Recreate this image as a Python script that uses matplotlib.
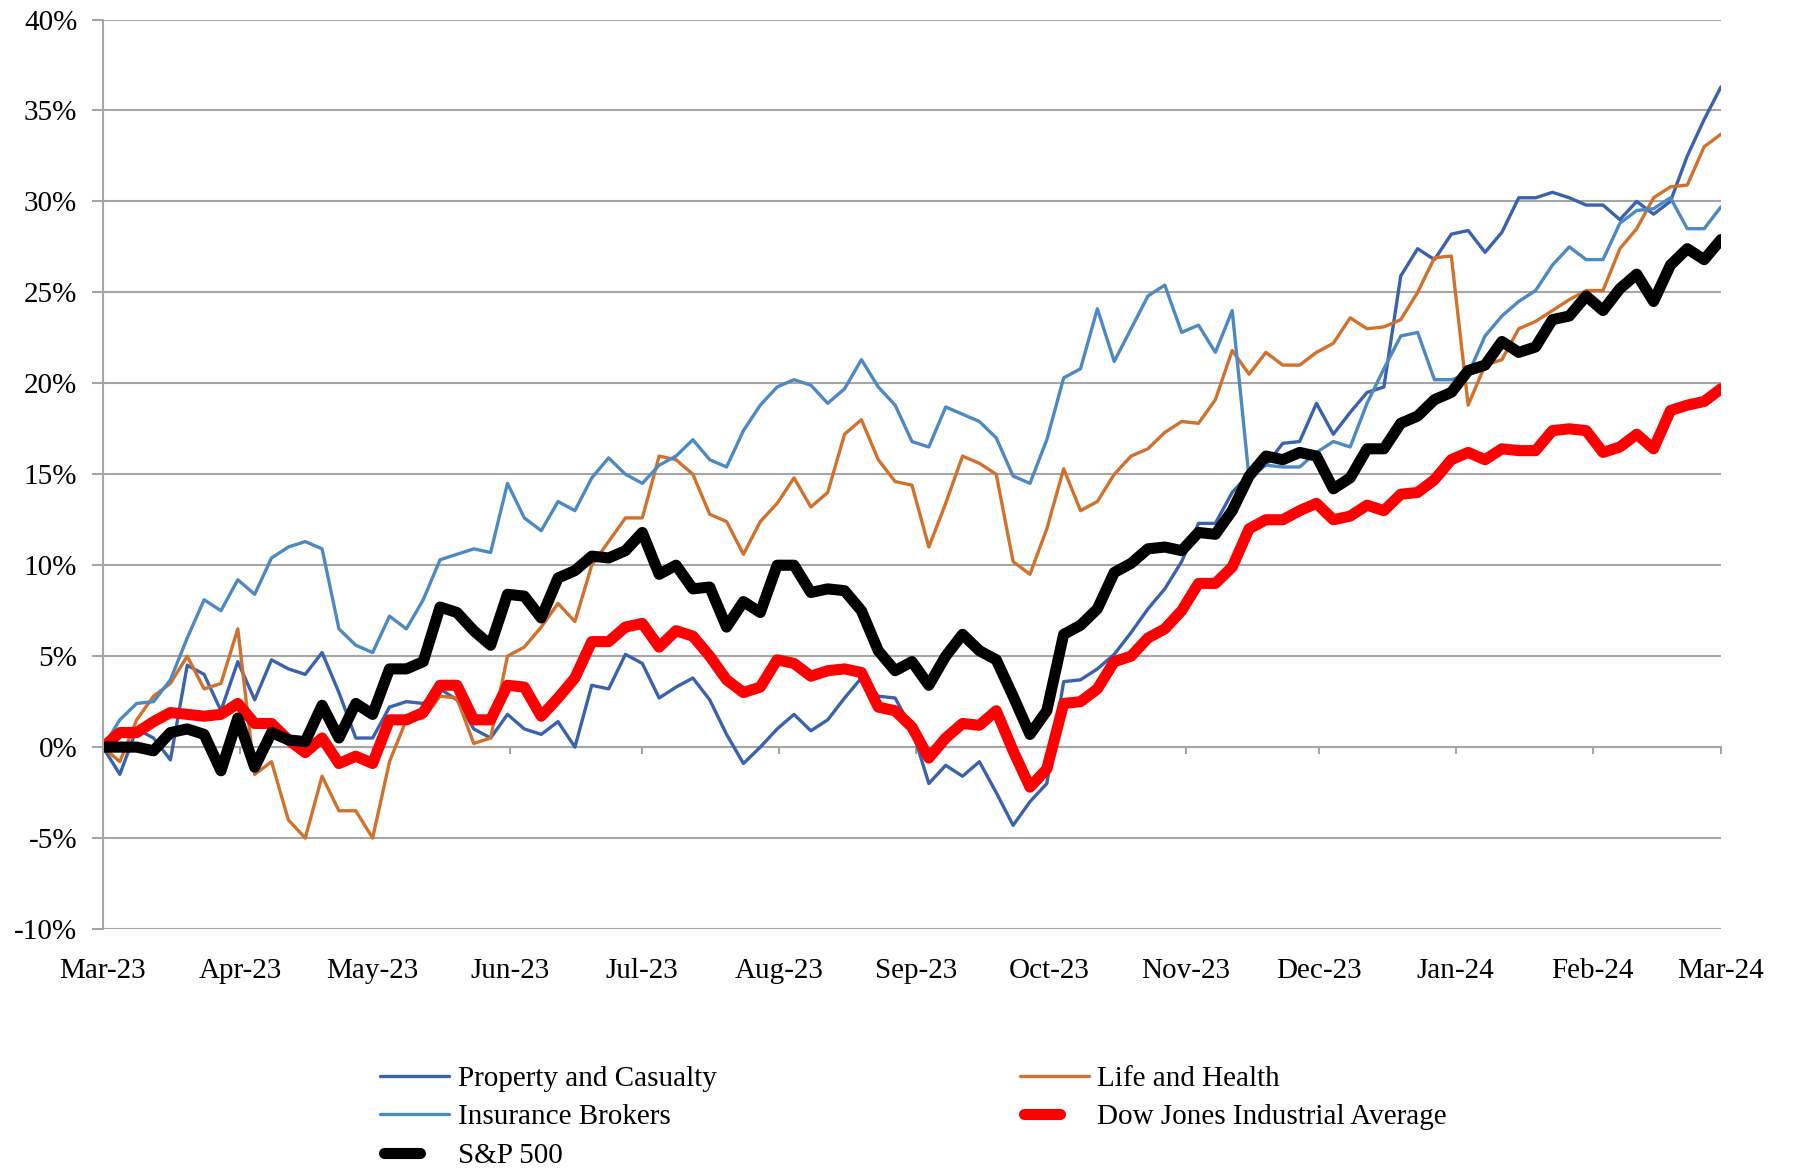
import numpy as np
import pandas as pd
import matplotlib
matplotlib.use("Agg")
import matplotlib.pyplot as plt
import matplotlib.dates as mdates
from matplotlib.ticker import FuncFormatter, MultipleLocator
from matplotlib.legend_handler import HandlerLine2D

# sampled about every 4 days, Mar-23 .. Mar-24, cumulative return in %
dates = pd.date_range("2023-03-01", "2024-03-01", periods=97)

prop_casualty = [
    0, -1.5, 1.0, 0.5, -0.7, 4.5, 4.0, 2.0, 4.7, 2.6, 4.8, 4.3, 4.0, 5.2, 3.0, 0.5, 0.5, 2.2,
    2.5, 2.4, 3.2, 2.6, 1.0, 0.5, 1.8, 1.0, 0.7, 1.4, 0.0, 3.4, 3.2, 5.1, 4.6, 2.7, 3.3,
    3.8, 2.6, 0.7, -0.9, 0.0, 1.0, 1.8, 0.9, 1.5, 2.7, 3.8, 2.8, 2.7, 1.0, -2.0, -1.0, -1.6,
    -0.8, -2.5, -4.3, -3.0, -2.0, 3.6, 3.7, 4.3, 5.1, 6.3, 7.6, 8.7, 10.2, 12.3, 12.3, 14.0, 15.0,
    15.5, 16.7, 16.8, 18.9, 17.2, 18.4, 19.5, 19.8, 25.9, 27.4, 26.8, 28.2, 28.4, 27.2, 28.3, 30.2,
    30.2, 30.5, 30.2, 29.8, 29.8, 29.0, 30.0, 29.3, 30.0, 32.5, 34.5, 36.3,
]

life_health = [
    0, -0.8, 1.5, 2.8, 3.5, 5.0, 3.2, 3.5, 6.5, -1.5, -0.8, -4.0, -5.0, -1.6, -3.5, -3.5, -5.0, -0.8,
    1.5, 1.6, 2.8, 2.7, 0.2, 0.5, 5.0, 5.5, 6.6, 7.9, 6.9, 10.0, 11.3, 12.6, 12.6, 16.0, 15.8,
    15.0, 12.8, 12.4, 10.6, 12.4, 13.4, 14.8, 13.2, 14.0, 17.2, 18.0, 15.8, 14.6, 14.4, 11.0, 13.4, 16.0,
    15.6, 15.0, 10.2, 9.5, 12.0, 15.3, 13.0, 13.5, 15.0, 16.0, 16.4, 17.3, 17.9, 17.8, 19.1, 21.8, 20.5,
    21.7, 21.0, 21.0, 21.7, 22.2, 23.6, 23.0, 23.1, 23.5, 25.0, 26.9, 27.0, 18.8, 21.0, 21.3, 23.0,
    23.4, 24.0, 24.6, 25.1, 25.1, 27.4, 28.5, 30.2, 30.8, 30.9, 33.0, 33.7,
]

brokers = [
    0, 1.5, 2.4, 2.5, 3.7, 6.0, 8.1, 7.5, 9.2, 8.4, 10.4, 11.0, 11.3, 10.9, 6.5, 5.6, 5.2, 7.2,
    6.5, 8.1, 10.3, 10.6, 10.9, 10.7, 14.5, 12.6, 11.9, 13.5, 13.0, 14.8, 15.9, 15.0, 14.5, 15.5, 16.0,
    16.9, 15.8, 15.4, 17.4, 18.8, 19.8, 20.2, 19.9, 18.9, 19.7, 21.3, 19.8, 18.8, 16.8, 16.5, 18.7, 18.3,
    17.9, 17.0, 14.9, 14.5, 16.9, 20.3, 20.8, 24.1, 21.2, 23.0, 24.8, 25.4, 22.8, 23.2, 21.7, 24.0, 14.8,
    15.5, 15.4, 15.4, 16.2, 16.8, 16.5, 18.9, 20.8, 22.6, 22.8, 20.2, 20.2, 20.5, 22.6, 23.7, 24.5,
    25.1, 26.5, 27.5, 26.8, 26.8, 28.8, 29.5, 29.6, 30.2, 28.5, 28.5, 29.7,
]

dow_jones = [
    0, 0.8, 0.8, 1.4, 1.9, 1.8, 1.7, 1.8, 2.4, 1.3, 1.3, 0.4, -0.3, 0.5, -0.9, -0.5, -0.9, 1.5,
    1.5, 1.9, 3.4, 3.4, 1.5, 1.5, 3.4, 3.3, 1.7, 2.7, 3.8, 5.8, 5.8, 6.6, 6.8, 5.5, 6.4,
    6.1, 5.0, 3.7, 3.0, 3.3, 4.8, 4.6, 3.9, 4.2, 4.3, 4.1, 2.2, 2.0, 1.1, -0.6, 0.5, 1.3,
    1.2, 2.0, -0.2, -2.2, -1.2, 2.4, 2.5, 3.2, 4.7, 5.0, 6.0, 6.5, 7.5, 9.0, 9.0, 9.9, 12.0,
    12.5, 12.5, 13.0, 13.4, 12.5, 12.7, 13.3, 13.0, 13.9, 14.0, 14.7, 15.8, 16.2, 15.8, 16.4, 16.3,
    16.3, 17.4, 17.5, 17.4, 16.2, 16.5, 17.2, 16.4, 18.5, 18.8, 19.0, 19.7,
]

sp500 = [
    0, 0.0, 0.0, -0.2, 0.8, 1.0, 0.7, -1.3, 1.6, -1.1, 0.8, 0.4, 0.3, 2.3, 0.5, 2.4, 1.8, 4.3,
    4.3, 4.7, 7.7, 7.4, 6.4, 5.6, 8.4, 8.3, 7.1, 9.3, 9.7, 10.5, 10.4, 10.8, 11.8, 9.5, 10.0,
    8.7, 8.8, 6.6, 8.0, 7.4, 10.0, 10.0, 8.5, 8.7, 8.6, 7.5, 5.3, 4.2, 4.7, 3.4, 5.0, 6.2,
    5.3, 4.8, 2.8, 0.7, 2.0, 6.2, 6.7, 7.6, 9.6, 10.1, 10.9, 11.0, 10.8, 11.8, 11.7, 13.0, 14.9,
    16.0, 15.8, 16.2, 16.0, 14.2, 14.8, 16.4, 16.4, 17.8, 18.2, 19.1, 19.5, 20.7, 21.0, 22.3, 21.7,
    22.0, 23.5, 23.7, 24.8, 24.0, 25.2, 26.0, 24.5, 26.5, 27.4, 26.8, 27.9,
]


class ShortLine(HandlerLine2D):
    # Excel draws the thick legend samples shorter
    def create_artists(self, legend, orig_handle, xdescent, ydescent, width, height, fontsize, trans):
        return super().create_artists(legend, orig_handle, xdescent - 3, ydescent,
                                      width * 0.52, height, fontsize, trans)


plt.rcParams['font.family'] = ['Liberation Serif', 'DejaVu Serif']
grey = '#A6A6A6'

fig = plt.figure(figsize=(17.94, 11.68), dpi=100)
ax = fig.add_axes([0.0574, 0.2046, 0.9019, 0.7787])

style = dict(solid_joinstyle='round', solid_capstyle='round')
ax.plot(dates, prop_casualty, color='#3A62AE', lw=2.4, label='Property and Casualty', **style)
ax.plot(dates, life_health, color='#D2712C', lw=2.4, label='Life and Health', **style)
ax.plot(dates, brokers, color='#4D89C3', lw=2.4, label='Insurance Brokers', **style)
dj, = ax.plot(dates, dow_jones, color='#FF0000', lw=8, label='Dow Jones Industrial Average', **style)
sp, = ax.plot(dates, sp500, color='#000000', lw=8, label='S&P 500', **style)

ax.set_ylim(-10, 40)
ax.set_xlim(pd.Timestamp("2023-03-01"), pd.Timestamp("2024-03-01"))
ax.yaxis.set_major_locator(MultipleLocator(5))
ax.yaxis.set_major_formatter(FuncFormatter(lambda v, p: f'{v:.0f}%'))
ax.xaxis.set_major_locator(mdates.MonthLocator())
ax.xaxis.set_major_formatter(mdates.DateFormatter('%b-%y'))

ax.yaxis.grid(True, color=grey, lw=1.5)
ax.set_axisbelow(True)
for s in ['top', 'right']:
    ax.spines[s].set_visible(False)
ax.spines['left'].set_color(grey)
ax.spines['left'].set_linewidth(1.5)
ax.spines['bottom'].set_position(('data', 0))
ax.spines['bottom'].set_color(grey)
ax.spines['bottom'].set_linewidth(1.5)
ax.spines['bottom'].set_zorder(0.5)

ax.tick_params(axis='y', direction='out', length=8, width=1.5, color=grey, pad=10.5, labelsize=21)
ax.tick_params(axis='x', direction='out', length=5, width=1.5, color=grey, pad=147, labelsize=21)

# legend in Excel order, two columns filled row-wise
h, l = ax.get_legend_handles_labels()
order = [0, 2, 4, 1, 3]
fig.legend([h[i] for i in order], [l[i] for i in order], ncol=2, frameon=False,
           loc='upper left', bbox_to_anchor=(0.212, 0.0876), borderpad=0, borderaxespad=0,
           fontsize=21, handlelength=2.37, handletextpad=0.28, columnspacing=10.4,
           labelspacing=0.41, handler_map={dj: ShortLine(), sp: ShortLine()})

fig.savefig('out.png', dpi=100)
